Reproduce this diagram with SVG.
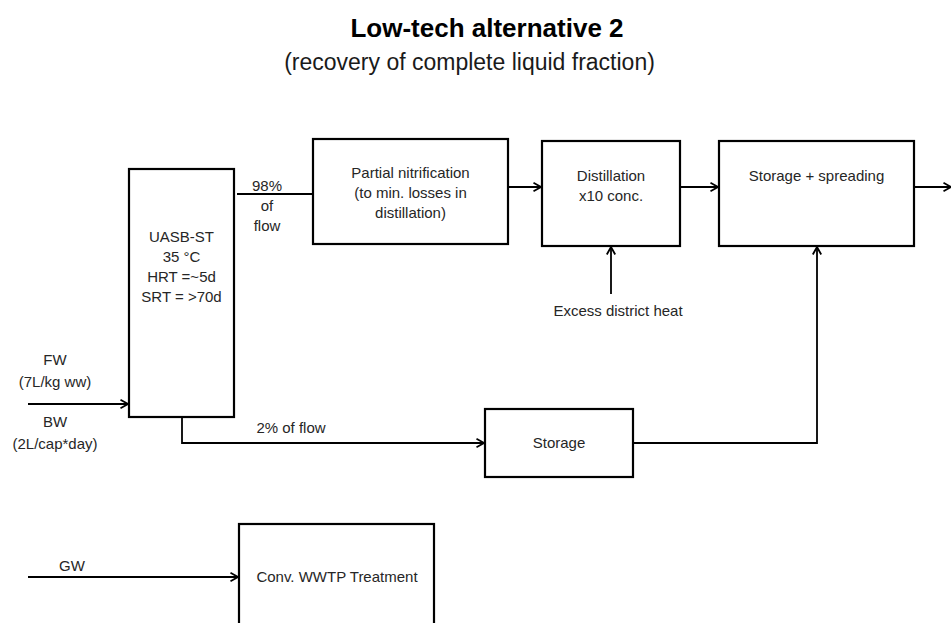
<svg xmlns="http://www.w3.org/2000/svg" width="951" height="623" viewBox="0 0 951 623">
  <style>
    .box { fill: #ffffff; stroke: #000000; stroke-width: 2.2; }
    .wire { fill: none; stroke: #000000; stroke-width: 1.8; }
    .lbl { font-family: "Liberation Sans", Arial, sans-serif; font-size: 15px; fill: #262626; text-anchor: middle; }
    .title { font-family: "Liberation Sans", Arial, sans-serif; font-size: 26px; font-weight: bold; fill: #000000; text-anchor: middle; }
    .sub { font-family: "Liberation Sans", Arial, sans-serif; font-size: 23px; fill: #1a1a1a; text-anchor: middle; }
  </style>
  <defs>
    <marker id="arrow" viewBox="0 0 10 10" refX="9.5" refY="5" markerWidth="10" markerHeight="10" markerUnits="userSpaceOnUse" orient="auto">
      <path d="M2,0.8 L9.5,5 L2,9.2" fill="none" stroke="#000000" stroke-width="1.8"/>
    </marker>
  </defs>
  <rect width="951" height="623" fill="#ffffff"/>

  <text class="title" x="487" y="37">Low-tech alternative 2</text>
  <text class="sub" x="469.5" y="70">(recovery of complete liquid fraction)</text>

  <!-- flows between process units -->
  <g id="connectors">
    <path class="wire" d="M237,194 H313"/>
    <path class="wire" d="M508,187 H541" marker-end="url(#arrow)"/>
    <path class="wire" d="M680,187 H718" marker-end="url(#arrow)"/>
    <path class="wire" d="M914,187 H951" marker-end="url(#arrow)"/>
    <path class="wire" d="M611,294 V247" marker-end="url(#arrow)"/>
    <path class="wire" d="M28,404 H128" marker-end="url(#arrow)"/>
    <path class="wire" d="M182,418 V443 H484" marker-end="url(#arrow)"/>
    <path class="wire" d="M634,443 H817 V247" marker-end="url(#arrow)"/>
    <path class="wire" d="M28,577 H238" marker-end="url(#arrow)"/>
    <text class="lbl" x="267" y="191">98%</text>
    <text class="lbl" x="267" y="211">of</text>
    <text class="lbl" x="267" y="231">flow</text>
    <text class="lbl" x="291" y="433">2% of flow</text>
    <text class="lbl" x="618" y="316">Excess district heat</text>
    <text class="lbl" x="55" y="365">FW</text>
    <text class="lbl" x="55" y="387">(7L/kg ww)</text>
    <text class="lbl" x="55" y="427">BW</text>
    <text class="lbl" x="55" y="449">(2L/cap*day)</text>
    <text class="lbl" x="72" y="571">GW</text>
  </g>

  <g id="uasb">
    <rect class="box" x="129" y="169" width="105" height="248"/>
    <text class="lbl" x="181.5" y="242">UASB-ST</text>
    <text class="lbl" x="181.5" y="262">35 °C</text>
    <text class="lbl" x="181.5" y="282">HRT =~5d</text>
    <text class="lbl" x="181.5" y="302">SRT = &gt;70d</text>
  </g>

  <g id="nitrification">
    <rect class="box" x="313" y="139" width="195" height="105"/>
    <text class="lbl" x="410.5" y="178">Partial nitrification</text>
    <text class="lbl" x="410.5" y="198">(to min. losses in</text>
    <text class="lbl" x="410.5" y="218">distillation)</text>
  </g>

  <g id="distillation">
    <rect class="box" x="542" y="141" width="138" height="105"/>
    <text class="lbl" x="611" y="181">Distillation</text>
    <text class="lbl" x="611" y="201">x10 conc.</text>
  </g>

  <g id="storage-spreading">
    <rect class="box" x="719" y="141" width="195" height="105"/>
    <text class="lbl" x="816.5" y="181">Storage + spreading</text>
  </g>

  <g id="storage">
    <rect class="box" x="485" y="409" width="148" height="68"/>
    <text class="lbl" x="559" y="448">Storage</text>
  </g>

  <g id="wwtp">
    <rect class="box" x="239" y="524" width="195" height="130"/>
    <text class="lbl" x="337" y="582">Conv. WWTP Treatment</text>
  </g>
</svg>
